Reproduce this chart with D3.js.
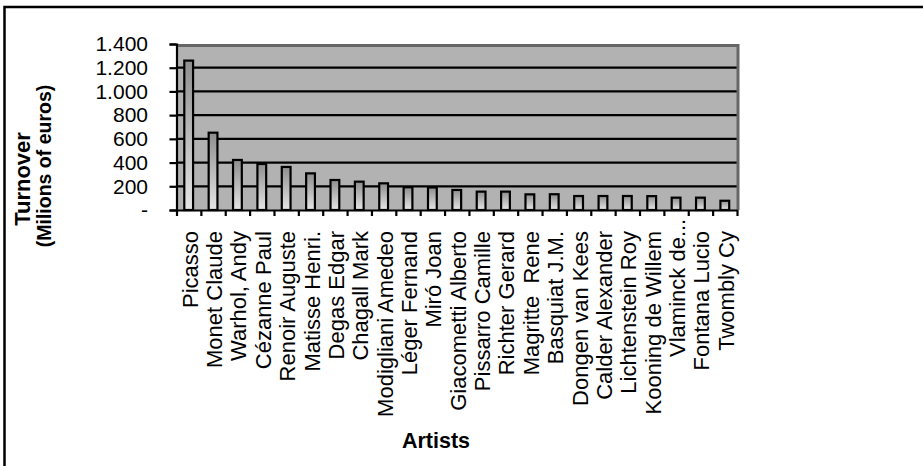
<!DOCTYPE html>
<html>
<head>
<meta charset="utf-8">
<script src="https://cdn.jsdelivr.net/npm/d3@7"></script>
<style>
  html, body { margin: 0; padding: 0; background: #fff; }
  svg { display: block; }
  text { font-family: "Liberation Sans", Arial, sans-serif; fill: #000; }
</style>
</head>
<body>
<svg id="chart" width="923" height="466"></svg>
<script>
// Art auction turnover per artist (millions of euros)
const artists = [
  "Picasso", "Monet Claude", "Warhol, Andy", "Cézanne Paul", "Renoir Auguste",
  "Matisse Henri.", "Degas Edgar", "Chagall Mark", "Modigliani Amedeo",
  "Léger Fernand", "Miró Joan", "Giacometti Alberto", "Pissarro Camille",
  "Richter Gerard", "Magritte  Rene", "Basquiat J.M.", "Dongen van Kees",
  "Calder Alexander", "Lichtenstein Roy", "Kooning de Willem", "Vlaminck de...",
  "Fontana Lucio", "Twombly Cy"
];
const turnover = [
  1260, 652, 422, 388, 363,
  309, 253, 239, 225,
  192, 190, 169, 155,
  155, 132, 133, 118,
  118, 118, 117, 104,
  104, 78
];
const yTicks = [0, 200, 400, 600, 800, 1000, 1200, 1400];

const svg = d3.select("#chart");

// outer frame (only its top and left edges fall inside the page)
svg.append("rect")
  .attr("x", 4.5).attr("y", 7)
  .attr("width", 1200).attr("height", 1200)
  .attr("fill", "none").attr("stroke", "#000").attr("stroke-width", 2.5);

const plot = { left: 176.5, right: 737, top: 44, bottom: 210 };

const y = d3.scaleLinear().domain([0, 1400]).range([plot.bottom, plot.top]);
const slot = d3.scaleBand().domain(artists).range([plot.left, plot.right]).padding(0);
const x = d3.scaleBand().domain(artists).range([plot.left, plot.right])
  .paddingInner(0.64).paddingOuter(0.32);
const idx = d3.scaleLinear().domain([0, artists.length]).range([plot.left, plot.right]);

// gradient for the bars: dark at the top, pale at the base
const defs = svg.append("defs");
const grad = defs.append("linearGradient")
  .attr("id", "barFill").attr("x1", 0).attr("y1", 0).attr("x2", 0).attr("y2", 1);
grad.append("stop").attr("offset", "0%").attr("stop-color", "#8e8e8e");
grad.append("stop").attr("offset", "100%").attr("stop-color", "#e6e6e6");

// plot wall
svg.append("rect")
  .attr("x", plot.left).attr("y", plot.top)
  .attr("width", plot.right - plot.left).attr("height", plot.bottom - plot.top)
  .attr("fill", "#b2b2b2");

// horizontal gridlines
svg.append("g").selectAll("line")
  .data(yTicks.filter(t => t > 0 && t < 1400))
  .join("line")
  .attr("x1", plot.left).attr("x2", plot.right)
  .attr("y1", d => y(d)).attr("y2", d => y(d))
  .attr("stroke", "#000").attr("stroke-width", 2.2);

// wall edge, top and right
svg.append("path")
  .attr("d", `M${plot.left},${y(1400) + 1.5}H${plot.right + 1}V${plot.bottom}`)
  .attr("fill", "none").attr("stroke", "#666").attr("stroke-width", 3);

// bars
svg.append("g").selectAll("rect")
  .data(artists)
  .join("rect")
  .attr("x", d => x(d))
  .attr("width", x.bandwidth())
  .attr("y", (d, i) => y(turnover[i]))
  .attr("height", (d, i) => y(0) - y(turnover[i]))
  .attr("fill", "url(#barFill)")
  .attr("stroke", "#000").attr("stroke-width", 2.2);

// y axis
const fmtLocale = d3.formatLocale({ decimal: ",", thousands: ".", grouping: [3], currency: ["", "€"] });
const fmt = fmtLocale.format(",d");
const yAxis = svg.append("g")
  .attr("transform", `translate(${plot.left},0)`)
  .call(d3.axisLeft(y).tickValues(yTicks).tickSize(7).tickPadding(21.5)
    .tickFormat(d => d === 0 ? "-" : fmt(d)));
yAxis.select(".domain").attr("stroke", "#000").attr("stroke-width", 2.2);
yAxis.selectAll(".tick line").attr("stroke", "#000").attr("stroke-width", 2.2);
yAxis.selectAll(".tick text")
  .attr("font-size", 21).attr("font-family", "Liberation Sans, Arial, sans-serif");

// x axis: baseline with ticks at category boundaries
const xAxis = svg.append("g")
  .attr("transform", `translate(0,${plot.bottom})`)
  .call(d3.axisBottom(idx).tickValues(d3.range(artists.length + 1)).tickSize(6).tickSizeOuter(0).tickFormat(""));
xAxis.select(".domain").attr("stroke", "#000").attr("stroke-width", 2.2);
xAxis.selectAll(".tick line").attr("stroke", "#000").attr("stroke-width", 2.2);

// rotated category labels, right-aligned below the axis
const labelTop = 231;
svg.append("g").selectAll("text")
  .data(artists)
  .join("text")
  .attr("transform", d => `translate(${slot(d) + slot.bandwidth() / 2},${labelTop}) rotate(-90)`)
  .attr("y", 9)
  .attr("text-anchor", "end")
  .attr("font-size", 22)
  .style("white-space", "pre")
  .text(d => d)
  .each(function (d) {
    // truncated names let their trailing dots run past the label edge
    if (d.endsWith("...")) {
      const n = d.length;
      this.setAttribute("dx", this.getSubStringLength(n - 2, 2));
    }
  });

// axis titles
const yTitle = svg.append("g").attr("font-weight", "bold");
yTitle.append("text")
  .attr("transform", "translate(30,179) rotate(-90)")
  .attr("text-anchor", "middle")
  .attr("font-size", 22)
  .text("Turnover");
yTitle.append("text")
  .attr("transform", "translate(51,166) rotate(-90)")
  .attr("text-anchor", "middle")
  .attr("font-size", 19.5)
  .text("(Milions of euros)");

svg.append("text")
  .attr("x", 436).attr("y", 448)
  .attr("text-anchor", "middle")
  .attr("font-weight", "bold")
  .attr("font-size", 21.5)
  .text("Artists");
</script>
</body>
</html>
